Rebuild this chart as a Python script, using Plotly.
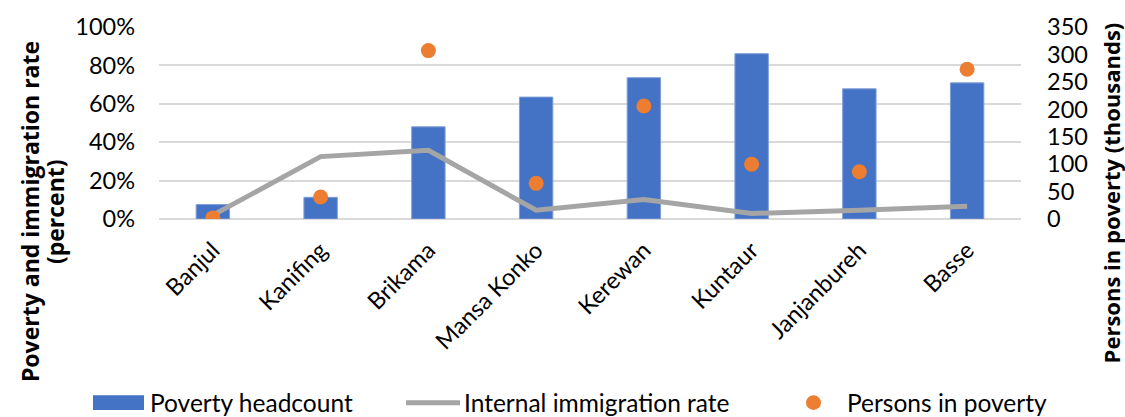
import plotly.graph_objects as go

# District data
districts = ["Banjul", "Kanifing", "Brikama", "Mansa Konko", "Kerewan",
             "Kuntaur", "Janjanbureh", "Basse"]
poverty_headcount = [0.075, 0.113, 0.48, 0.635, 0.736, 0.861, 0.678, 0.709]
immigration_rate = [0.02, 0.325, 0.358, 0.046, 0.101, 0.029, 0.045, 0.067]
persons_in_poverty = [2, 40, 307, 65, 206, 100, 86, 273]

left_ticks = [0, 0.2, 0.4, 0.6, 0.8, 1.0]
right_ticks = [0, 50, 100, 150, 200, 250, 300, 350]

BLUE = "#4472C4"
GREY = "#A5A5A5"
ORANGE = "#ED7D31"
FONT = "Lato"
TITLE_FONT = "Open Sans"

W, H = 1125, 417
ML, MR, MT, MB = 159, 104, 24, 198
PW = W - ML - MR
PH = H - MT - MB


def px(x):
    return (x - ML) / PW


def py(y):
    return (H - MB - y) / PH


fig = go.Figure()

fig.add_trace(go.Bar(
    x=districts, y=poverty_headcount, name="Poverty headcount",
    marker=dict(color=BLUE, line=dict(color="#7f9fd9", width=1)),
    showlegend=False,
))

fig.add_trace(go.Scatter(
    x=districts, y=immigration_rate, name="Internal immigration rate",
    mode="lines", line=dict(color=GREY, width=5),
    showlegend=False,
))

fig.add_trace(go.Scatter(
    x=districts, y=persons_in_poverty, name="Persons in poverty",
    mode="markers", yaxis="y2",
    marker=dict(color=ORANGE, size=15, line=dict(width=0)),
    showlegend=False,
))

# Legend drawn as swatches + labels below the axis labels
legend_y = 405.5
shapes = [
    dict(type="rect", xref="paper", yref="paper",
         x0=px(93), x1=px(144), y0=py(413), y1=py(398),
         fillcolor=BLUE, line=dict(width=0)),
    dict(type="line", xref="paper", yref="paper",
         x0=px(406), x1=px(460), y0=py(legend_y), y1=py(legend_y),
         line=dict(color=GREY, width=5)),
    dict(type="circle", xref="paper", yref="paper",
         x0=px(806), x1=px(821), y0=py(413), y1=py(398),
         fillcolor=ORANGE, line=dict(width=0)),
]

annotations = [
    dict(text="Poverty headcount", x=px(148), y=py(legend_y)),
    dict(text="Internal immigration rate", x=px(462), y=py(legend_y)),
    dict(text="Persons in poverty", x=px(845), y=py(legend_y)),
]
for a in annotations:
    a.update(xref="paper", yref="paper", xanchor="left", yanchor="middle",
             showarrow=False, font=dict(family=FONT, size=24.5, color="#000000"))

# Axis titles (left title split over two rotated lines)
for text, xc in (("<b>Poverty and immigration rate</b>", 30),
                 ("<b>(percent)</b>", 55)):
    annotations.append(dict(
        text=text, xref="paper", yref="paper", x=px(xc), y=py(212),
        xanchor="center", yanchor="middle", textangle=-90, showarrow=False,
        font=dict(family=TITLE_FONT, size=23, color="#000000"),
    ))
annotations.append(dict(
    text="<b>Persons in poverty (thousands)</b>",
    xref="paper", yref="paper", x=px(1111), y=py(193),
    xanchor="center", yanchor="middle", textangle=-90, showarrow=False,
    font=dict(family=TITLE_FONT, size=22, color="#000000"),
))

fig.update_layout(
    width=W, height=H,
    margin=dict(l=ML, r=MR, t=MT, b=MB, pad=0),
    paper_bgcolor="white", plot_bgcolor="white",
    font=dict(family=FONT, size=23, color="#000000"),
    bargap=0.69,
    shapes=shapes,
    annotations=annotations,
    xaxis=dict(
        tickangle=-45, showgrid=False, showline=False, ticks="",
        ticklabelstandoff=12,
        tickfont=dict(family=FONT, size=23.5, color="#000000"),
    ),
    yaxis=dict(
        range=[0, 1.0], tickvals=left_ticks, tickformat=".0%",
        showgrid=True, gridcolor="#D9D9D9", gridwidth=1.5,
        zeroline=True, zerolinecolor="#D9D9D9", zerolinewidth=1.5,
        showline=False, ticks="", ticklabelstandoff=23,
        tickfont=dict(family=FONT, size=23.5, color="#000000"),
    ),
    yaxis2=dict(
        range=[0, 350], tickvals=right_ticks, overlaying="y", side="right",
        showgrid=False, zeroline=False, showline=False, ticks="",
        ticklabelstandoff=25,
        tickfont=dict(family=FONT, size=23.5, color="#000000"),
    ),
)

fig.write_html("out.html")
